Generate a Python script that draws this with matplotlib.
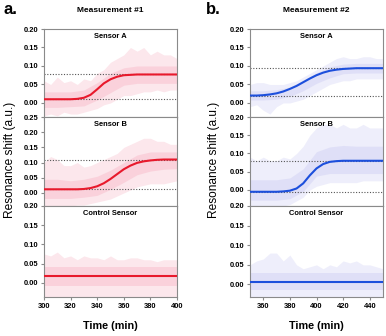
import matplotlib
matplotlib.use("Agg")
import matplotlib.pyplot as plt
import numpy as np

plt.rcParams['font.family'] = ['Liberation Sans', 'DejaVu Sans']

# ---------------- data ----------------
t1_5 = [300, 305, 310, 315, 320, 325, 330, 335, 340, 345, 350, 355, 360, 365, 370, 375, 380, 385, 390, 395, 400]
t2_5 = [350, 355, 360, 365, 370, 375, 380, 385, 390, 395, 400, 405, 410, 415, 420, 425, 430, 435, 440, 445, 450]
t1_10 = [300, 310, 320, 330, 340, 350, 360, 370, 380, 390, 400]
t2_10 = [350, 360, 370, 380, 390, 400, 410, 420, 430, 440, 450]

# Measurement #1 fitted curves
m1_a_fit = [0.010, 0.010, 0.010, 0.010, 0.010, 0.011, 0.014, 0.022, 0.037, 0.053, 0.064,
            0.071, 0.075, 0.076, 0.077, 0.077, 0.077, 0.077, 0.077, 0.077, 0.077]
m1_b_fit = [0.012, 0.012, 0.012, 0.012, 0.012, 0.012, 0.013, 0.016, 0.022, 0.032, 0.046,
            0.062, 0.078, 0.090, 0.099, 0.104, 0.107, 0.109, 0.110, 0.110, 0.110]
m1_c_fit = [0.018] * 21
# Measurement #2 fitted curves
m2_a_fit = [0.020, 0.020, 0.021, 0.023, 0.026, 0.031, 0.038, 0.046, 0.056, 0.066, 0.075,
            0.082, 0.087, 0.090, 0.092, 0.093, 0.094, 0.094, 0.094, 0.094, 0.094]
m2_b_fit = [-0.005, -0.005, -0.005, -0.005, -0.005, -0.004, -0.002, 0.004, 0.018, 0.040, 0.059,
            0.071, 0.077, 0.079, 0.080, 0.080, 0.080, 0.080, 0.080, 0.080, 0.080]
m2_c_fit = [0.007] * 21

# dotted reference levels (baseline, plateau)
m1_a_levels = [0.010, 0.077]
m1_b_levels = [0.012, 0.110]
m2_a_levels = [0.020, 0.094]
m2_b_levels = [-0.005, 0.080]

# raw-signal envelopes: outer spikes (5-min readings) and dense core (10-min readings)
m1_a_out_hi = [0.06, 0.05, 0.07, 0.055, 0.06, 0.05, 0.065, 0.06, 0.08, 0.09, 0.11,
               0.12, 0.13, 0.15, 0.14, 0.15, 0.13, 0.14, 0.13, 0.13, 0.12]
m1_a_out_lo = [-0.035, -0.03, -0.035, -0.025, -0.03, -0.03, -0.025, -0.02, -0.015, -0.005, 0.0,
               0.01, 0.02, 0.02, 0.025, 0.03, 0.03, 0.035, 0.03, 0.035, 0.035]
m1_a_in_hi = [0.03, 0.03, 0.03, 0.035, 0.055, 0.08, 0.095, 0.10, 0.10, 0.10, 0.10]
m1_a_in_lo = [-0.012, -0.012, -0.01, -0.008, 0.008, 0.028, 0.048, 0.053, 0.053, 0.053, 0.053]

m1_b_out_hi = [0.10, 0.12, 0.11, 0.09, 0.09, 0.10, 0.085, 0.09, 0.10, 0.11, 0.12,
               0.13, 0.15, 0.16, 0.17, 0.18, 0.18, 0.17, 0.17, 0.16, 0.16]
m1_b_out_lo = [-0.043, -0.043, -0.043, -0.043, -0.043, -0.04, -0.04, -0.035, -0.03, -0.025, -0.02,
               -0.01, 0.0, 0.01, 0.02, 0.025, 0.03, 0.03, 0.03, 0.035, 0.04]
m1_b_in_hi = [0.045, 0.045, 0.04, 0.045, 0.055, 0.075, 0.10, 0.125, 0.135, 0.135, 0.135]
m1_b_in_lo = [-0.018, -0.018, -0.018, -0.014, -0.008, 0.012, 0.035, 0.06, 0.072, 0.078, 0.08]

m1_c_out_hi = [0.075, 0.07, 0.08, 0.065, 0.07, 0.06, 0.07, 0.065, 0.065, 0.06, 0.07,
               0.06, 0.06, 0.065, 0.065, 0.06, 0.06, 0.055, 0.06, 0.06, 0.06]
m1_c_out_lo = [-0.037] * 21
m1_c_in_hi = [0.042] * 11
m1_c_in_lo = [-0.008] * 11

m2_a_out_hi = [0.05, 0.055, 0.055, 0.05, 0.05, 0.05, 0.055, 0.06, 0.07, 0.08, 0.09,
               0.10, 0.11, 0.12, 0.125, 0.12, 0.12, 0.125, 0.125, 0.12, 0.12]
m2_a_out_lo = [-0.01, -0.005, -0.02, -0.03, -0.01, 0.0, 0.0, 0.005, 0.01, 0.02, 0.03,
               0.04, 0.05, 0.055, 0.06, 0.06, 0.065, 0.065, 0.065, 0.065, 0.065]
m2_a_in_hi = [0.033, 0.033, 0.036, 0.043, 0.062, 0.082, 0.098, 0.105, 0.107, 0.107, 0.107]
m2_a_in_lo = [0.008, 0.008, 0.01, 0.018, 0.033, 0.053, 0.068, 0.079, 0.081, 0.081, 0.081]

m2_b_out_hi = [0.09, 0.08, 0.09, 0.08, 0.08, 0.09, 0.085, 0.10, 0.12, 0.15, 0.17,
               0.18, 0.18, 0.17, 0.18, 0.17, 0.17, 0.18, 0.17, 0.17, 0.17]
m2_b_out_lo = [-0.044, -0.044, -0.044, -0.044, -0.044, -0.044, -0.04, -0.03, -0.02, 0.0, 0.01,
               0.015, 0.02, 0.02, 0.02, 0.02, 0.02, 0.025, 0.025, 0.025, 0.025]
m2_b_in_hi = [0.028, 0.028, 0.028, 0.033, 0.058, 0.105, 0.118, 0.122, 0.12, 0.12, 0.12]
m2_b_in_lo = [-0.028, -0.028, -0.028, -0.024, -0.004, 0.038, 0.045, 0.045, 0.045, 0.045, 0.045]

m2_c_out_hi = [0.05, 0.06, 0.065, 0.08, 0.08, 0.06, 0.075, 0.05, 0.04, 0.045, 0.05,
               0.04, 0.05, 0.045, 0.06, 0.055, 0.06, 0.05, 0.05, 0.045, 0.04]
m2_c_out_lo = [-0.032] * 21
m2_c_in_hi = [0.028] * 11
m2_c_in_lo = [-0.014] * 11

sensor_names = ["Sensor A", "Sensor B", "Control Sensor"]
titles = ["Measurement #1", "Measurement #2"]
panel_letters = ["a.", "b."]

# ---------------- figure ----------------
W, H = 386, 336
fig = plt.figure(figsize=(W / 100, H / 100), dpi=100)

RED, PINK = "#e8192c", "#f9c3d0"
BLUE, LAV = "#1c4fdc", "#d6d6f5"
SPINE = "#8a8a8a"

rows_px = [(29, 117), (117, 206), (206, 297)]
cols_px = [(44, 177), (250, 383)]

ylims = [[(-0.038, 0.20), (-0.043, 0.25), (-0.037, 0.20)],
         [(-0.038, 0.20), (-0.044, 0.20), (-0.032, 0.20)]]
yticks = [[np.arange(0, 0.201, 0.05), np.arange(0, 0.251, 0.05), np.arange(0, 0.201, 0.05)],
          [np.arange(0, 0.201, 0.05)] * 3]

data = [
    [(m1_a_fit, m1_a_levels, m1_a_out_hi, m1_a_out_lo, m1_a_in_hi, m1_a_in_lo),
     (m1_b_fit, m1_b_levels, m1_b_out_hi, m1_b_out_lo, m1_b_in_hi, m1_b_in_lo),
     (m1_c_fit, None, m1_c_out_hi, m1_c_out_lo, m1_c_in_hi, m1_c_in_lo)],
    [(m2_a_fit, m2_a_levels, m2_a_out_hi, m2_a_out_lo, m2_a_in_hi, m2_a_in_lo),
     (m2_b_fit, m2_b_levels, m2_b_out_hi, m2_b_out_lo, m2_b_in_hi, m2_b_in_lo),
     (m2_c_fit, None, m2_c_out_hi, m2_c_out_lo, m2_c_in_hi, m2_c_in_lo)],
]

for c in range(2):
    x0, x1 = cols_px[c]
    t5 = t1_5 if c == 0 else t2_5
    t10 = t1_10 if c == 0 else t2_10
    line_c, fill_c = (RED, PINK) if c == 0 else (BLUE, LAV)
    xlim = (300, 400) if c == 0 else (350, 450)
    xt = np.arange(300, 401, 20) if c == 0 else np.arange(360, 441, 20)
    for r in range(3):
        y0, y1 = rows_px[r]
        ax = fig.add_axes([x0 / W, 1 - y1 / H, (x1 - x0) / W, (y1 - y0) / H])
        fit, lv, ohi, olo, ihi, ilo = data[c][r]
        ax.fill_between(t5, olo, ohi, color=fill_c, alpha=0.4, lw=0, zorder=1)
        ax.fill_between(t10, ilo, ihi, color=fill_c, alpha=0.6, lw=0, zorder=1)
        if lv is not None:
            for v in lv:
                ax.axhline(v, color="#555555", ls=(0, (1, 1.5)), lw=0.8, zorder=2)
        ax.plot(t5, fit, color=line_c, lw=1.5, zorder=3)
        ax.set_xlim(*xlim)
        ax.set_ylim(*ylims[c][r])
        ax.set_xticks(xt)
        ax.set_yticks(yticks[c][r])
        ax.set_yticklabels([f"{v:.2f}" for v in yticks[c][r]])
        if r < 2:
            ax.set_xticklabels([])
        for s in ax.spines.values():
            s.set_color(SPINE)
            s.set_linewidth(0.8)
        ax.tick_params(axis="both", direction="out", length=2.5, width=0.8,
                       color=SPINE, labelsize=5.4, pad=1.5)
        for lab in ax.get_xticklabels() + ax.get_yticklabels():
            lab.set_fontweight("bold")
        ax.text(0.5, 0.915, sensor_names[r], transform=ax.transAxes, ha="center",
                va="center", fontsize=5.4, fontweight="bold")
    fig.text((x0 + x1) / 2 / W, 1 - 10 / H, titles[c], ha="center", va="center",
             fontsize=6, fontweight="bold")
    fig.text((x0 + x1) / 2 / W, 1 - 326 / H, "Time (min)", ha="center", va="center",
             fontsize=7.8, fontweight="bold")

fig.text(3 / W, 1 - 10 / H, panel_letters[0], ha="left", va="center", fontsize=12, fontweight="bold")
fig.text(206 / W, 1 - 10 / H, panel_letters[1], ha="left", va="center", fontsize=12, fontweight="bold")
fig.text(10 / W, 1 - 160 / H, "Resonance shift (a.u.)", rotation=90, ha="center", va="center",
         fontsize=8.6)
fig.text(214 / W, 1 - 160 / H, "Resonance shift (a.u.)", rotation=90, ha="center", va="center",
         fontsize=8.6)

fig.savefig("out.png", dpi=100)
